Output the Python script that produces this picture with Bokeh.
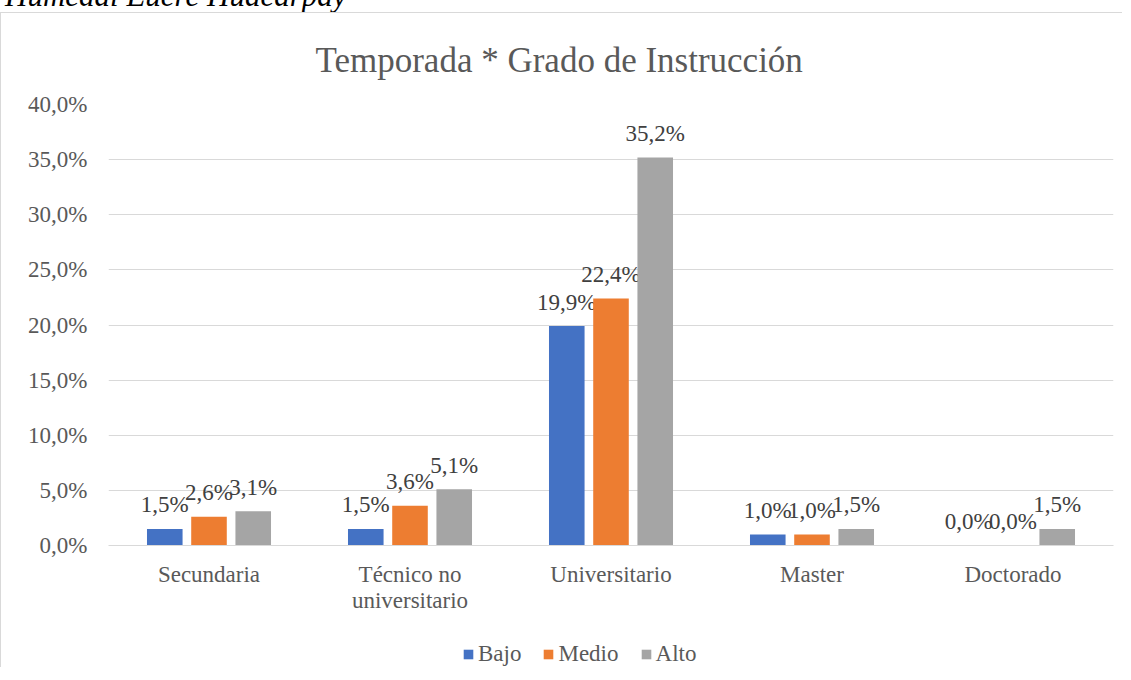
from bokeh.plotting import figure
from bokeh.models import ColumnDataSource, FactorRange, Range1d, Legend, LegendItem, Div, FixedTicker
from bokeh.transform import dodge
from bokeh.layouts import column
from bokeh.core.properties import value
from bokeh.embed import file_html
from bokeh.resources import INLINE

# ---- data ----
categories = ["Secundaria", "Técnico no\nuniversitario", "Universitario", "Master", "Doctorado"]
bajo = [1.5, 1.5, 19.9, 1.0, 0.0]
medio = [2.6, 3.6, 22.4, 1.0, 0.0]
alto = [3.1, 5.1, 35.2, 1.5, 1.5]
series_names = ["Bajo", "Medio", "Alto"]
series_colors = ["#4472C4", "#ED7D31", "#A5A5A5"]
y_ticks = [0, 5, 10, 15, 20, 25, 30, 35, 40]
y_tick_labels = ["0,0%", "5,0%", "10,0%", "15,0%", "20,0%", "25,0%", "30,0%", "35,0%", "40,0%"]
title_text = "Temporada * Grado de Instrucción"
caption_text = "Humedal Eucre Huacarpay"

FONT = "Liberation Serif"
BORDER = {"border-left": "1px solid #d9d9d9"}


def fmt(v):
    return f"{v:.1f}%".replace(".", ",")


data = dict(cat=categories, Bajo=bajo, Medio=medio, Alto=alto)
for name in series_names:
    data[name + "_lbl"] = [fmt(v) for v in data[name]]
source = ColumnDataSource(data)

p = figure(
    x_range=FactorRange(*categories, range_padding=0),
    y_range=Range1d(0, 40),
    width=1122, height=605,
    min_border_left=107, min_border_right=10, min_border_top=91, min_border_bottom=73,
    output_backend="svg", toolbar_location=None,
)
p.outline_line_color = None
p.background_fill_color = "white"
p.border_fill_color = "white"

offsets = [-0.22, 0.0, 0.22]
for name, color, off in zip(series_names, series_colors, offsets):
    p.vbar(x=dodge("cat", off, range=p.x_range), top=name, width=0.177,
           source=source, fill_color=color, line_color=None)
    p.text(x=dodge("cat", off, range=p.x_range), y=name, text=name + "_lbl", source=source,
           text_align="center", text_baseline="alphabetic", y_offset=-24,
           text_font=value(FONT), text_font_size="23px", text_color="#404040")

# title
p.title.text = title_text
p.title.align = "left"
p.title.offset = 207
p.title.standoff = 49
p.title.text_font = FONT
p.title.text_font_size = "35px"
p.title.text_font_style = "normal"
p.title.text_color = "#595959"

# axes
p.xaxis.axis_line_color = "#d9d9d9"
p.xaxis.major_tick_line_color = None
p.xaxis.minor_tick_line_color = None
p.xaxis.major_label_text_font = FONT
p.xaxis.major_label_text_font_size = "23px"
p.xaxis.major_label_text_color = "#595959"
p.xaxis.major_label_text_line_height = 1.05
p.xaxis.major_label_standoff = 10
p.xaxis.major_label_orientation = "horizontal"

p.yaxis.ticker = FixedTicker(ticks=y_ticks)
p.yaxis.major_label_overrides = {t: l for t, l in zip(y_ticks, y_tick_labels)}
p.yaxis.axis_line_color = None
p.yaxis.major_tick_line_color = None
p.yaxis.minor_tick_line_color = None
p.yaxis.major_label_text_font = FONT
p.yaxis.major_label_text_font_size = "23px"
p.yaxis.major_label_text_color = "#595959"
p.yaxis.major_label_standoff = 15

p.xgrid.grid_line_color = None
p.ygrid.grid_line_color = "#d9d9d9"
p.ygrid.grid_line_width = 1

p.styles = {"border-top": "1px solid #d9d9d9", **BORDER}

# legend strip (separate small figure under the chart)
lg = figure(width=1122, height=50, x_range=Range1d(0, 1), y_range=Range1d(0, 1),
            min_border=0, output_backend="svg", toolbar_location=None)
lg.outline_line_color = None
lg.axis.visible = False
lg.grid.grid_line_color = None
# zero-height swatch renderers: only their legend glyphs show
swatches = [lg.vbar(x=[0.5], top=[0], bottom=[0], width=0.1, fill_color=c, line_color=None)
            for c in series_colors]
legend = Legend(
    items=[LegendItem(label=n, renderers=[r]) for n, r in zip(series_names, swatches)],
    orientation="horizontal", location=(354, 0),
    glyph_width=12, glyph_height=12, label_standoff=4, spacing=21,
    padding=0, margin=0, border_line_color=None, background_fill_alpha=0,
    label_text_font=FONT, label_text_font_size="23px", label_text_color="#595959",
)
lg.add_layout(legend)
lg.styles = dict(BORDER)

caption = Div(
    text=caption_text, width=400, height=2,
    styles={"position": "relative", "top": "-31px", "left": "0px", "overflow": "visible",
            "font-family": FONT, "font-style": "italic", "font-size": "31px",
            "color": "black", "white-space": "nowrap"},
)

root = column(caption, p, lg, spacing=0)
open("out.html", "w").write(file_html(root, INLINE))
